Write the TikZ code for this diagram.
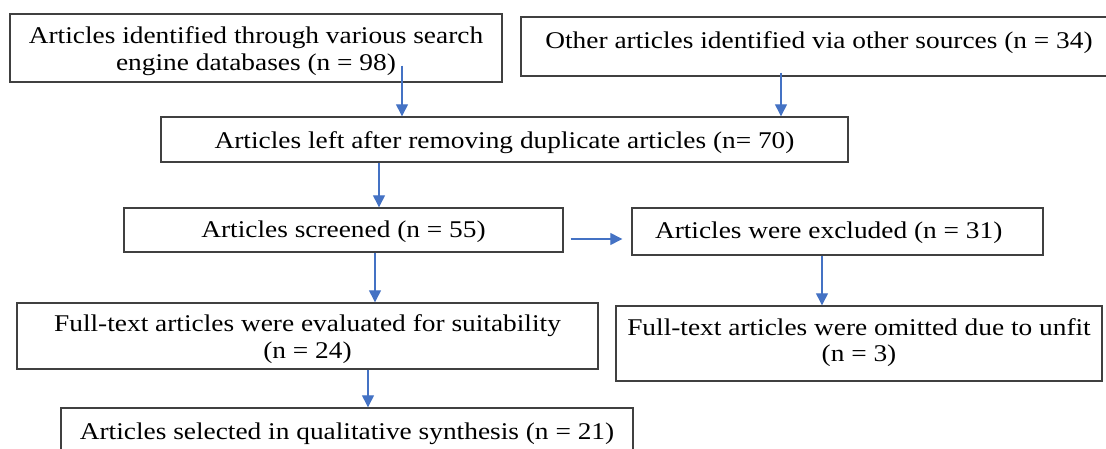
\documentclass[tikz,border=0pt]{standalone}
\usepackage{fontspec}
\setmainfont{Liberation Serif}[FakeStretch=1.14]
\usetikzlibrary{arrows.meta}
\definecolor{arrowblue}{RGB}{68,114,196}
\definecolor{boxline}{RGB}{64,64,64}
\begin{document}
\begin{tikzpicture}[x=1pt,y=-1pt,
  box/.style={draw=boxline, line width=1.4pt, inner sep=0pt, align=center,
    font=\fontsize{24}{26.5}\selectfont},
  arr/.style={draw=arrowblue, line width=1.3pt, -{Triangle[width=12pt,length=12pt]}}]
\useasboundingbox (0,0) rectangle (1106,449);
\clip (0,0) rectangle (1106,449);
\node[box, minimum width=492pt, minimum height=68pt, text height=49.2pt] (a) at (256,48)
  {Articles identified through various search\\engine databases (n = 98)};
\node[box, minimum width=596pt, minimum height=59pt, text height=8.7pt] (b) at (819,46.5)
  {Other articles identified via other sources (n = 34)};
\node[box, minimum width=687pt, minimum height=45pt, text height=22.7pt] (c) at (504.5,139.5)
  {Articles left after removing duplicate articles (n= 70)};
\node[box, minimum width=439pt, minimum height=44pt, text height=20.7pt] (d) at (343.5,230)
  {Articles screened (n = 55)};
\node[box, minimum width=411pt, minimum height=47pt, text height=18.7pt, text width=365pt, align=flush left, inner xsep=23pt] (e) at (837.5,231.5)
  {Articles were excluded (n = 31)};
\node[box, minimum width=486pt, minimum height=75pt, text height=41.2pt] (f) at (859,343.5)
  {Full-text articles were omitted due to unfit\\(n = 3)};
\node[box, minimum width=581pt, minimum height=66pt, text height=49.2pt] (g) at (307.5,336)
  {Full-text articles were evaluated for suitability\\(n = 24)};
\node[box, minimum width=572pt, minimum height=50pt, text height=18.7pt] (h) at (347,433)
  {Articles selected in qualitative synthesis (n = 21)};
\draw[arr] ([xshift=146pt,yshift=17pt]a.south) -- ([xshift=-102.5pt]c.north);
\draw[arr] ([xshift=-38pt,yshift=4pt]b.south) -- ([xshift=276.5pt]c.north);
\draw[arr] ([xshift=-125.5pt]c.south) -- ([xshift=35.5pt]d.north);
\draw[arr] ([xshift=7pt,yshift=-9pt]d.east) -- ([xshift=-9pt,yshift=-7.5pt]e.west);
\draw[arr] ([xshift=31.5pt]d.south) -- ([xshift=67.5pt]g.north);
\draw[arr] ([xshift=60.5pt]g.south) -- ([xshift=21pt]h.north);
\draw[arr] ([xshift=-15.5pt]e.south) -- ([xshift=-37pt]f.north);
\end{tikzpicture}
\end{document}
